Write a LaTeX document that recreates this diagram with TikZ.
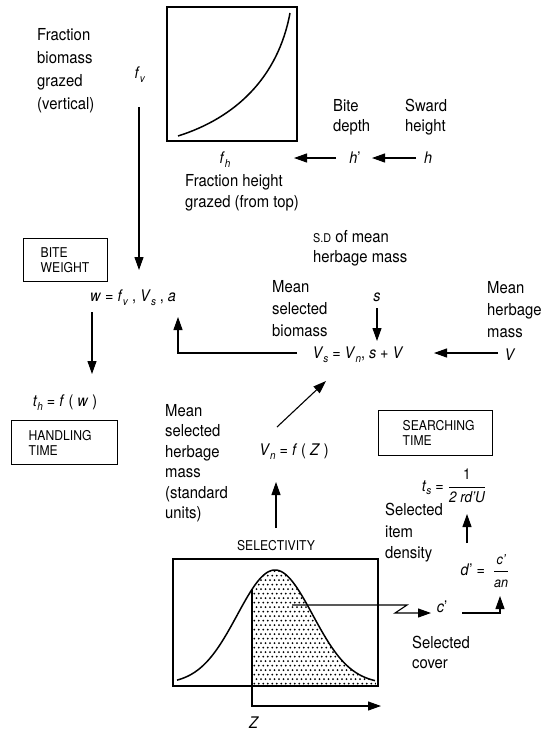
\documentclass[tikz,border=0pt]{standalone}
\usepackage{fontspec}
\setmainfont{TeX Gyre Heros}[FakeStretch=0.9]
\usetikzlibrary{arrows.meta}
\newcommand{\vv}[1]{\textit{#1}}
\newcommand{\sbx}[1]{\raisebox{-0.45ex}{\fontsize{11}{11}\selectfont\textit{#1}}}
\tikzset{
  txt/.style={inner sep=0pt, font=\fontsize{16.5}{22}\selectfont, align=left},
  eq/.style={inner sep=0pt, font=\fontsize{16}{18}\selectfont},
  boxlab/.style={draw, line width=1.4pt, inner ysep=0pt, font=\fontsize{13.5}{15}\selectfont, align=left, anchor=north west},
  arr/.style={-{Triangle[length=13pt,width=9pt]}, line width=1.1pt},
  heavy/.style={line width=1.5pt}
}
\begin{document}
\begin{tikzpicture}[x=1pt,y=-1pt]
\useasboundingbox (0,0) rectangle (548,731);
% ---------- top plot ----------
\node[draw, heavy, minimum width=130pt, minimum height=134pt, inner sep=0pt] (plotbox) at (232,74) {};
\draw[heavy] (178,136) .. controls (235,118) and (278,78) .. (290,13);
\node[txt, anchor=west, font=\fontsize{16.5}{23}\selectfont] (fracbio) at (37,70.5) {Fraction\\biomass\\grazed\\(vertical)};
\node[eq] (fv) at (140,75) {\vv{f}\sbx{v}};
\node[eq] (fh) at (225,160) {\vv{f}\sbx{h}};
\node[txt, anchor=west, font=\fontsize{16.5}{21}\selectfont] (fracht) at (185,193) {Fraction height\\grazed (from top)};
\node[txt, anchor=west, font=\fontsize{16.5}{20}\selectfont] (bitedepth) at (333,117) {Bite\\depth};
\node[txt, anchor=west, font=\fontsize{16.5}{20}\selectfont] (sward) at (405,117) {Sward\\height};
\node[eq] (hp) at (355,158) {\vv{h}'};
\node[eq] (h) at (428,158) {\vv{h}};
\coordinate (hs) at (416,158);
\coordinate (he) at (372,158);
\draw[arr] (hs) -- (he);
\coordinate (hps) at (336,158);
\coordinate (hpe) at (294,158);
\draw[arr] (hps) -- (hpe);
% ---------- bite weight ----------
\node[boxlab, minimum height=43pt, inner xsep=17pt, text width=50pt] (bwbox) at (23,238) {BITE\\WEIGHT};
\node[eq] (weq) at (133,298) {\vv{w} = \vv{f}\sbx{v} , \vv{V}\sbx{s} , \vv{a}};
\coordinate (fvs) at (139,107);
\coordinate (fve) at (139,270);
\draw[arr] (fvs) -- (fve);
\node[eq] (th) at (65,403) {\vv{t}\sbx{h} = \vv{f} ( \vv{w} )};
\coordinate (ws) at (92,312);
\coordinate (we) at (92,374);
\draw[arr] (ws) -- (we);
\node[boxlab, minimum height=44pt, inner xsep=17pt, text width=72pt] (htbox) at (11,420) {HANDLING\\TIME};
% ---------- selected biomass ----------
\node[txt, anchor=west, font=\fontsize{16.5}{20}\selectfont] (sd) at (313,248) {{\fontsize{12}{12}\selectfont S.D} of mean\\herbage mass};
\node[txt, anchor=west] (msb) at (272,309) {Mean\\selected\\biomass};
\node[txt, anchor=west] (mhm) at (487,310) {Mean\\herbage\\mass};
\node[eq] (s) at (377,297) {\vv{s}};
\node[eq] (vseq) at (358,355) {\vv{V}\sbx{s} = \vv{V}\sbx{n}, \vv{s} + \vv{V}};
\node[eq] (V) at (510,355) {\vv{V}};
\coordinate (ss) at (377,308);
\coordinate (se) at (377,341);
\draw[arr] (ss) -- (se);
\coordinate (Vs) at (498,353);
\coordinate (Ve) at (434,353);
\draw[arr] (Vs) -- (Ve);
\coordinate (vsw) at (297,353);
\coordinate (fbk) at (178,317);
\draw[arr] (vsw) -| (fbk);
% ---------- V_n ----------
\node[txt, anchor=west, font=\fontsize{16.5}{20.5}\selectfont] (mshm) at (165,463) {Mean\\selected\\herbage\\mass\\(standard\\units)};
\node[eq] (vneq) at (294,452) {\vv{V}\sbx{n} = \vv{f} ( \vv{Z} )};
\coordinate (diagS) at (277,427);
\coordinate (diagE) at (326,381);
\draw[arr] (diagS) -- (diagE);
% ---------- searching time ----------
\node[boxlab, minimum height=45pt, inner xsep=24pt, text width=66pt] (stbox) at (378,410) {SEARCHING\\TIME};
\node[eq] (tseq) at (454,486) {\vv{t}\sbx{s} = $\displaystyle\frac{\mbox{\fontsize{15}{15}\selectfont 1}}{\mbox{\fontsize{15}{15}\selectfont\itshape 2 rd'U}}$};
\node[txt, anchor=west, font=\fontsize{16.5}{21.5}\selectfont] (sid) at (385,533) {Selected\\item\\density};
\node[eq] (dpeq) at (485,571) {\vv{d}' = \ $\displaystyle\frac{\mbox{\fontsize{14}{14}\selectfont\itshape c'}}{\mbox{\fontsize{14}{14}\selectfont\itshape an}}$};
\coordinate (dpup) at (467,543);
\coordinate (tsdown) at (467,514);
\draw[arr] (dpup) -- (tsdown);
% ---------- selectivity ----------
\node[inner sep=0pt, font=\fontsize{13.5}{13.5}\selectfont] (selab) at (276,546) {SELECTIVITY};
\node[draw, heavy, minimum width=205pt, minimum height=127pt, inner sep=0pt] (selbox) at (275.5,622.5) {};
\begin{scope}
\clip (252,686) -- plot[domain=252:376,samples=60] (\x,{684-114*exp(-((\x-275)*(\x-275))/2842)}) -- (376,686) -- cycle;
\foreach \j in {0,...,26}{
  \foreach \i in {0,...,28}{
    \fill ({252+\i*4.5+mod(\j,2)*2.25},{571+\j*4.5}) circle (1pt);
  }
}
\end{scope}
\draw[heavy] plot[domain=177:375,samples=90] (\x,{684-114*exp(-((\x-275)*(\x-275))/2842)});
\coordinate (cut) at (252,589.4);
\coordinate (zc) at (252,706);
\coordinate (zend) at (381,706);
\draw[arr] (cut) -- (zc) -- (zend);
\node[eq] (Z) at (254,723) {\vv{Z}};
\coordinate (selup) at (276,528);
\coordinate (vndown) at (276,482);
\draw[arr] (selup) -- (vndown);
% ---------- cover ----------
\node[eq] (cp) at (442,607) {\vv{c}'};
\node[txt, anchor=west, font=\fontsize{16.5}{20}\selectfont] (selcov) at (412,652) {Selected\\cover};
\coordinate (inshade) at (292,605);
\coordinate (zz1) at (407,605);
\coordinate (zz2) at (395,613);
\coordinate (zz3) at (431,613);
\draw[arr] (inshade) -- (zz1) -- (zz2) -- (zz3);
\coordinate (cpl) at (462,613);
\coordinate (cpr) at (500,613);
\coordinate (dpin) at (500,596);
\draw[arr] (cpl) -- (cpr) -- (dpin);
\end{tikzpicture}
\end{document}
